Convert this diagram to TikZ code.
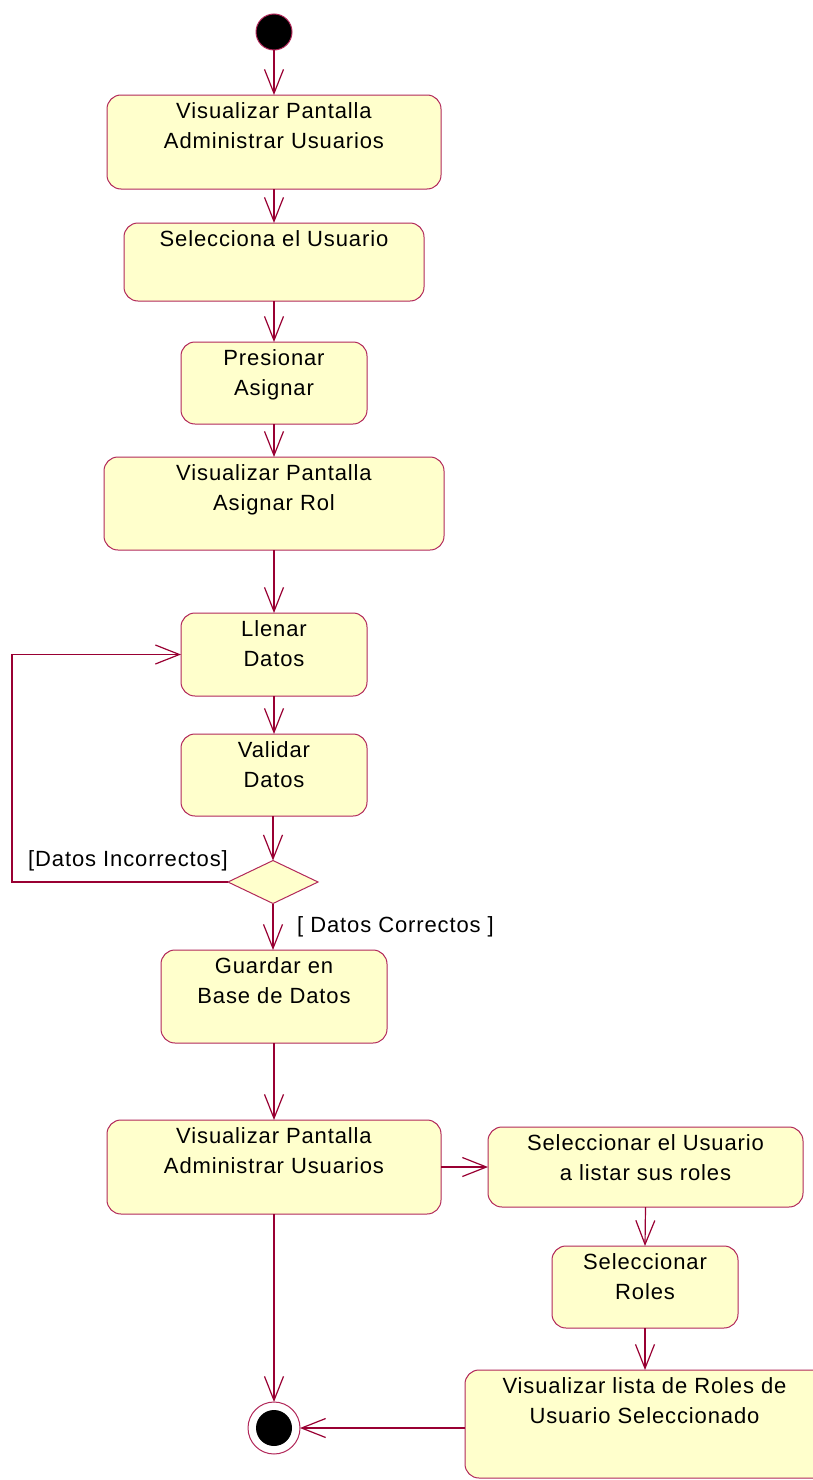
\documentclass[tikz,border=0pt]{standalone}
\usepackage{fontspec}
\setmainfont{Liberation Sans}[LetterSpace=4]
\usetikzlibrary{arrows.meta,shapes.geometric}
\definecolor{umlline}{RGB}{153,0,51}
\definecolor{umlborder}{RGB}{178,40,90}
\definecolor{umlfill}{RGB}{255,255,204}
\tikzset{
  act/.style={draw=umlborder, fill=umlfill, rounded corners=14pt, line width=1pt, inner sep=0pt, outer sep=0pt},
  txt/.style={font=\fontsize{22}{30}\selectfont, align=center, inner sep=0pt, anchor=north},
  lbl/.style={font=\fontsize{22}{30}\selectfont, inner sep=0pt},
  flow/.style={draw=umlline, line width=1.2pt, -{Straight Barb[length=24pt,width=19pt,line width=1.2pt]}},
}
\newcommand\actnode[6]{%
  \node[act, minimum width={(#4-#2)*1pt}, minimum height={(#5-#3)*1pt}] (#1) at ({(#2+#4)/2},{(#3+#5)/2}) {};
  \node[txt] (#1t) at ([yshift=-7.5pt]#1.north) {#6};
}
\begin{document}
\begin{tikzpicture}[x=1pt,y=-1pt]
\useasboundingbox (0,0) rectangle (812,1480);
\clip (-10,-10) rectangle (830,1490);
\fill[white] (-10,-10) rectangle (830,1490);

\node[circle, draw=umlborder, fill=black, minimum size=36pt, inner sep=0pt, outer sep=0pt, line width=1pt] (start) at (274,32) {};

\actnode{b1}{107}{95}{441}{189}{Visualizar Pantalla\\Administrar Usuarios}
\actnode{b2}{124}{223}{424}{301}{Selecciona el Usuario}
\actnode{b3}{181}{342}{367}{424}{Presionar\\Asignar}
\actnode{b4}{104}{457}{444}{550}{Visualizar Pantalla\\Asignar Rol}
\actnode{b5}{181}{613}{367}{696}{Llenar\\Datos}
\actnode{b6}{181}{734}{367}{816}{Validar\\Datos}
\actnode{b7}{161}{950}{387}{1043}{Guardar en\\Base de Datos}
\actnode{b8}{107}{1120}{441}{1214}{Visualizar Pantalla\\Administrar Usuarios}
\actnode{b9}{488}{1127}{803}{1207}{Seleccionar el Usuario\\a listar sus roles}
\actnode{b10}{552}{1246}{738}{1328}{Seleccionar\\Roles}
\node[act, minimum width=400pt, minimum height=108pt] (b11) at (665,1424) {};
\node[txt] (b11t) at (644.5,1377) {Visualizar lista de Roles de\\Usuario Seleccionado};

\node[diamond, draw=umlborder, fill=umlfill, minimum width=90pt, minimum height=43pt, inner sep=0pt, outer sep=0pt, line width=1pt] (dia) at (273,882) {};

\node[circle, draw=umlborder, fill=white, minimum size=52pt, inner sep=0pt, outer sep=0pt, line width=1pt] (endo) at (274,1428) {};
\node[circle, fill=black, minimum size=36pt, inner sep=0pt] (endi) at (endo) {};

\node[lbl, anchor=base west] (lincorr) at (28,866) {[Datos Incorrectos]};
\node[lbl, anchor=base west] (lcorr) at (297,932) {[ Datos Correctos ]};

\coordinate (lp) at (12,770);

\draw[flow] (start.south) -- (b1.north);
\draw[flow] (b1.south) -- (b2.north);
\draw[flow] (b2.south) -- (b3.north);
\draw[flow] (b3.south) -- (b4.north);
\draw[flow] (b4.south) -- (b5.north);
\draw[flow] (b5.south) -- (b6.north);
\draw[flow] (dia.north |- b6.south) -- (dia.north);
\draw[flow] (dia.west) -| (lp) |- (b5.west);
\draw[flow] (dia.south) -- (dia.south |- b7.north);
\draw[flow] (b7.south) -- (b7.south |- b8.north);
\draw[flow] (b8.east) -- (b9.west);
\draw[flow] (b9.south) -- (b10.north);
\draw[flow] (b10.south) -- (b10.south |- b11.north);
\draw[flow] (endo.north |- b8.south) -- (endo.north);
\draw[flow] (b11.west |- endo.center) -- (endo.east);
\end{tikzpicture}
\end{document}
